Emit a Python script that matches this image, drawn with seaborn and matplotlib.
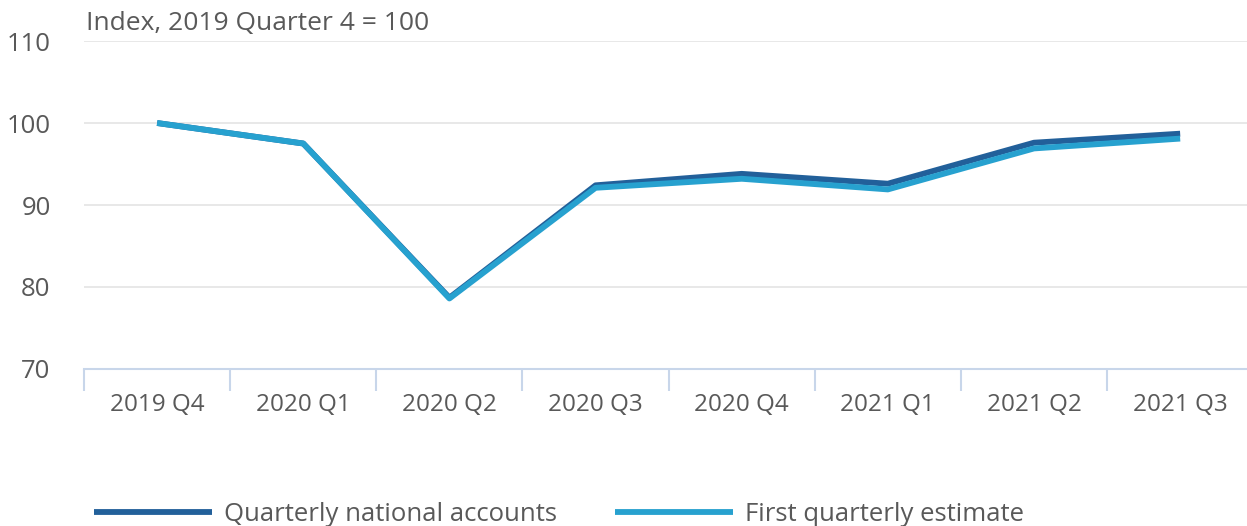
import pandas as pd
import seaborn as sns
import matplotlib.pyplot as plt
from matplotlib.ticker import FixedLocator

# Quarter labels and index values (2019 Q4 = 100)
quarters = ['2019 Q4', '2020 Q1', '2020 Q2', '2020 Q3',
            '2020 Q4', '2021 Q1', '2021 Q2', '2021 Q3']
qna_values = [100.0, 97.5, 78.7, 92.4, 93.8, 92.6, 97.6, 98.7]
first_est_values = [100.0, 97.5, 78.6, 92.1, 93.2, 91.9, 96.9, 98.1]
series_names = ['Quarterly national accounts', 'First quarterly estimate']

df = pd.DataFrame({
    'quarter': quarters * 2,
    'value': qna_values + first_est_values,
    'series': [series_names[0]] * len(quarters) + [series_names[1]] * len(quarters),
})

sns.set_style('white')
plt.rcParams['font.family'] = ['Open Sans', 'DejaVu Sans']
plt.rcParams['lines.solid_capstyle'] = 'butt'
text_col = '#595959'

fig = plt.figure(figsize=(12.47, 5.26), dpi=100)
ax = fig.add_axes([0.0674, 0.2985, 0.9376, 0.6235])

palette = {series_names[0]: '#22609a', series_names[1]: '#27a1cf'}
sns.lineplot(data=df, x='quarter', y='value', hue='series', palette=palette,
             linewidth=4.2, sort=False, ax=ax, legend=True)

ax.set_xlim(-0.5, 7.5)
ax.set_ylim(70, 110)
ax.set_yticks([70, 80, 90, 100, 110])
ax.grid(axis='y', color='#e4e4e4', linewidth=1.2)
ax.set_axisbelow(True)
ax.set_xlabel('')
ax.set_ylabel('')

for s in ['top', 'right', 'left']:
    ax.spines[s].set_visible(False)
ax.spines['bottom'].set_color('#c8d6ea')
ax.spines['bottom'].set_linewidth(1.5)

# category separators below the axis
ax.xaxis.set_minor_locator(FixedLocator([i - 0.5 for i in range(len(quarters) + 1)]))
ax.tick_params(axis='x', which='minor', bottom=True, length=16, width=1.5, color='#c8d6ea')
ax.tick_params(axis='x', which='major', length=0, pad=17, labelsize=17.5, labelcolor=text_col)
ax.tick_params(axis='y', length=0, pad=24, labelsize=18.5, labelcolor=text_col)

fig.text(0.069, 0.955, 'Index, 2019 Quarter 4 = 100', fontsize=19, color=text_col,
         va='center', ha='left')

handles, labels = ax.get_legend_handles_labels()
ax.get_legend().remove()
fig.legend(handles, labels, loc='lower left', bbox_to_anchor=(0.057, -0.045), ncol=2,
           frameon=False, fontsize=18.5, handlelength=4.6, handletextpad=0.45,
           columnspacing=2.25, labelcolor=text_col)

fig.savefig('out.png', dpi=100)
